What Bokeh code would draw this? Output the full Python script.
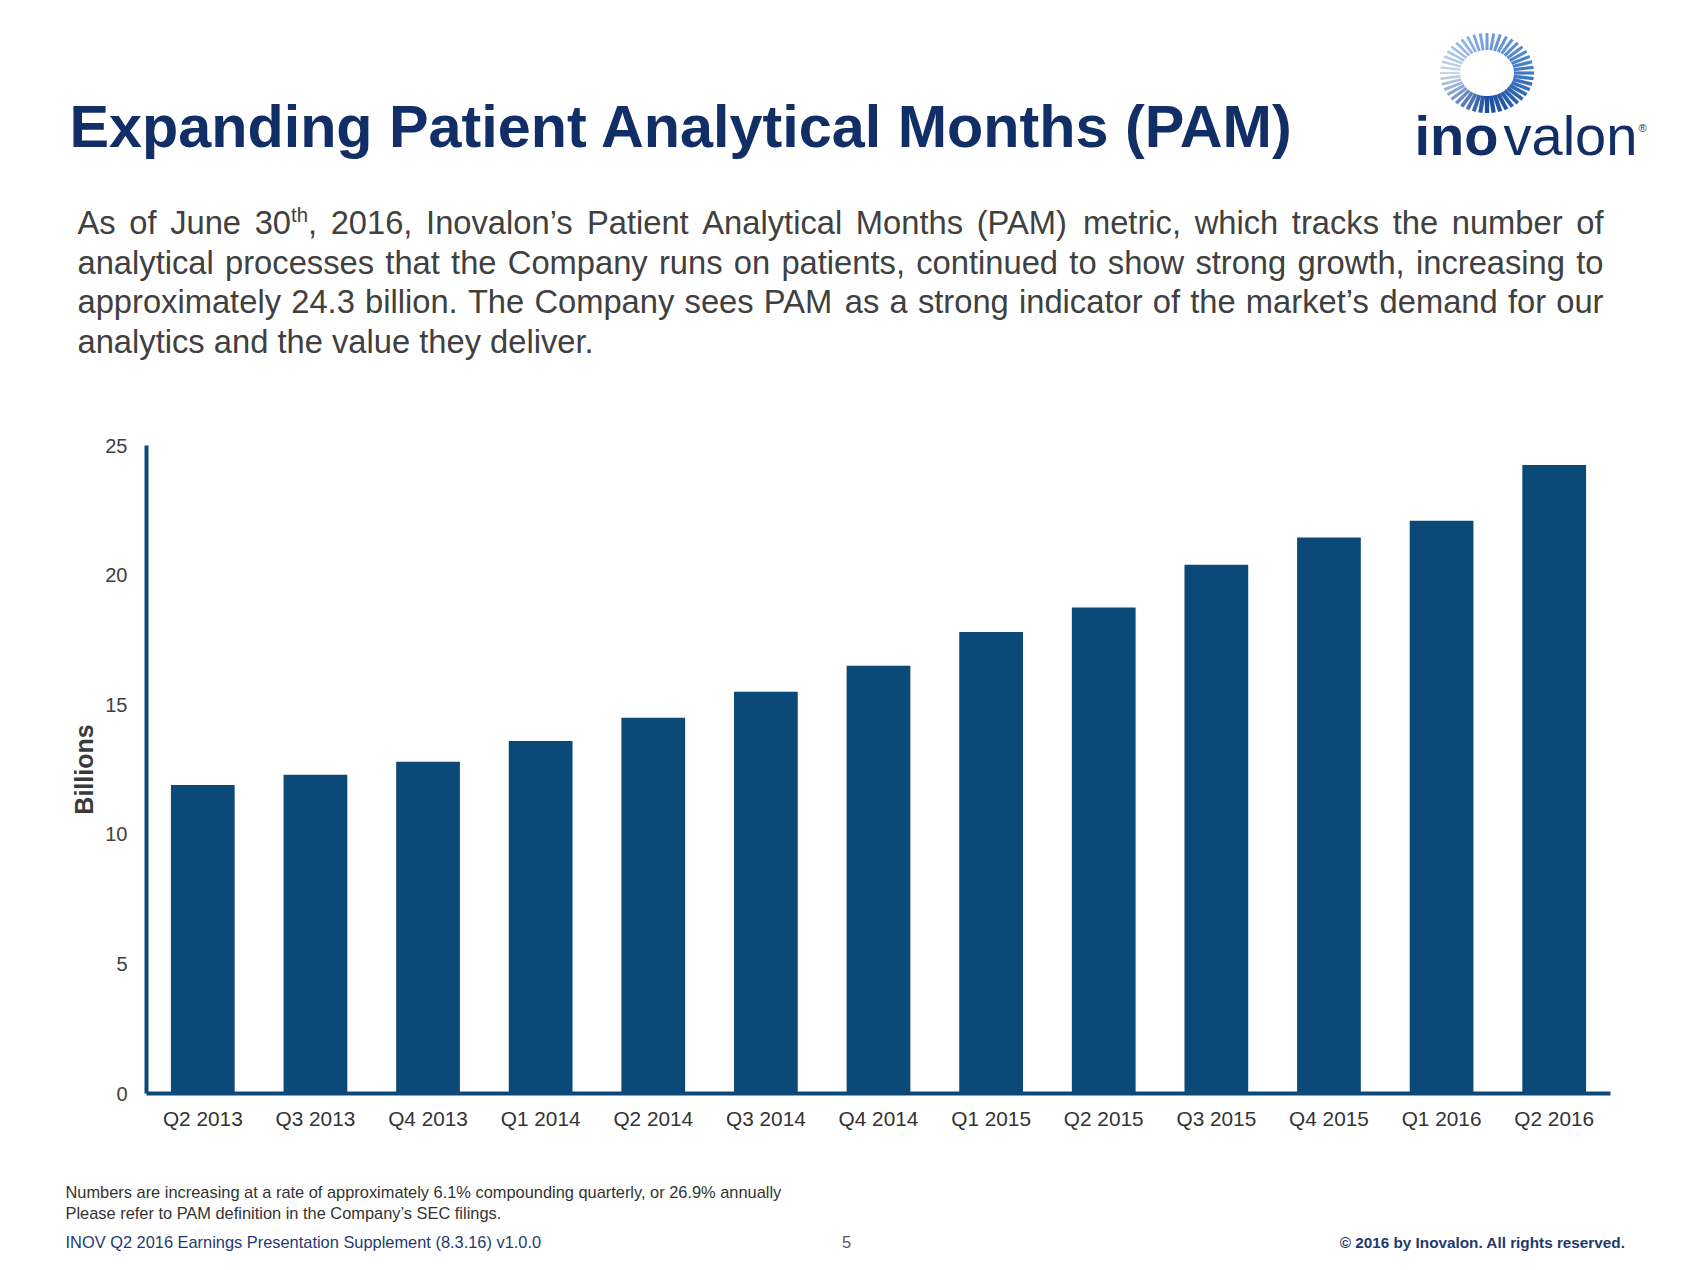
import math
import re
from bokeh.plotting import figure
from bokeh.models import Range1d, FactorRange, ColumnDataSource, FixedTicker
from bokeh.core.properties import value
from bokeh.embed import file_html
from bokeh.resources import INLINE

# ---------------- data ----------------
quarters = ["Q2 2013", "Q3 2013", "Q4 2013", "Q1 2014", "Q2 2014", "Q3 2014", "Q4 2014",
            "Q1 2015", "Q2 2015", "Q3 2015", "Q4 2015", "Q1 2016", "Q2 2016"]
pam_billions = [11.9, 12.3, 12.8, 13.6, 14.5, 15.5, 16.5, 17.8, 18.75, 20.4, 21.45, 22.1, 24.25]
y_ticks = [0, 5, 10, 15, 20, 25]
y_axis_label = "Billions"

title_text = "Expanding Patient Analytical Months (PAM)"
paragraph_lines = [
    "As of June 30{th}, 2016, Inovalon\u2019s Patient Analytical Months (PAM) metric, which tracks the number of",
    "analytical processes that the Company runs on patients, continued to show strong growth, increasing to",
    "approximately 24.3 billion. The Company sees PAM as a strong indicator of the market\u2019s demand for our",
    "analytics and the value they deliver.",
]
footnote_lines = [
    "Numbers are increasing at a rate of approximately 6.1% compounding quarterly, or 26.9% annually",
    "Please refer to PAM definition in the Company\u2019s SEC filings.",
]
footer_left = "INOV Q2 2016 Earnings Presentation Supplement (8.3.16) v1.0.0"
footer_page = "5"
footer_right = "\u00a9 2016 by Inovalon. All rights reserved."

# ---------------- styles ----------------
FONT = "Liberation Sans"
BAR = "#0b4a78"
NAVY = "#112e67"
GRAY = "#404040"

W, H = 1693, 1262
FL, FR, FT, FB = 146, 1610, 445, 1093   # frame edges in page px
BASE_K = 0.37                           # baseline correction (em) for text glyphs

# Arial / Liberation Sans advance widths (1/1000 em)
CW = {' ': 278, ',': 278, '.': 278, '(': 333, ')': 333, '\u2019': 222, '%': 889, '-': 333}
CW.update({d: 556 for d in "0123456789"})
CW.update(dict(zip("ABCDEFGHIJKLMNOPQRSTUVWXYZ",
                   [667, 667, 722, 722, 667, 611, 778, 722, 278, 500, 667, 556, 833, 722, 778, 667,
                    778, 722, 667, 611, 722, 667, 944, 667, 667, 611])))
CW.update(dict(zip("abcdefghijklmnopqrstuvwxyz",
                   [556, 556, 500, 556, 556, 278, 556, 556, 222, 222, 500, 222, 833, 556, 556, 556,
                    556, 333, 500, 278, 556, 500, 722, 500, 500, 500])))
SUP = 0.62


def segments(word):
    out = []
    for part in re.split(r"(\{[^}]*\})", word):
        if not part:
            continue
        if part.startswith("{"):
            out.append((part[1:-1], True))
        else:
            out.append((part, False))
    return out


def seg_width(text, sup, size):
    return sum(CW.get(c, 556) for c in text) / 1000.0 * size * (SUP if sup else 1.0)


def word_width(word, size):
    return sum(seg_width(t, s, size) for t, s in segments(word))


def cx_(px):
    # page x pixel -> synthetic coordinate on the categorical x range
    return (px - FL) / (FR - FL) * len(quarters)


p = figure(width=W, height=H, x_range=FactorRange(*quarters), y_range=Range1d(0, 25),
           output_backend="svg", toolbar_location=None,
           min_border_left=FL, min_border_right=W - FR, min_border_top=FT, min_border_bottom=H - FB)
p.extra_y_ranges = {"px": Range1d(FB, FT)}

src = ColumnDataSource(dict(q=quarters, v=pam_billions))
p.vbar(x="q", top="v", width=0.566, source=src, fill_color=BAR, line_color=None)

p.grid.visible = False
p.outline_line_color = None
p.background_fill_color = "white"

xa = p.xaxis[0]
xa.axis_line_color = BAR
xa.axis_line_width = 4
xa.major_tick_line_color = None
xa.minor_tick_line_color = None
xa.major_label_text_font = FONT
xa.major_label_text_font_size = "20.8px"
xa.major_label_text_color = "#333333"
xa.major_label_standoff = 7

ya = p.yaxis[0]
ya.ticker = FixedTicker(ticks=y_ticks)
ya.axis_line_color = BAR
ya.axis_line_width = 4
ya.major_tick_line_color = None
ya.minor_tick_line_color = None
ya.major_label_text_font = FONT
ya.major_label_text_font_size = "20px"
ya.major_label_text_color = "#404040"
ya.major_label_standoff = 13
ya.axis_label = y_axis_label
ya.axis_label_text_font = FONT
ya.axis_label_text_font_size = "25px"
ya.axis_label_text_font_style = "bold"
ya.axis_label_text_color = "#3a3a3a"
ya.axis_label_standoff = 4

texts = {"left": [], "center": [], "right": []}


def label(x, y, text, size, color, style="normal", align="left"):
    # x, y in page pixels (y downwards, y = alphabetic baseline)
    texts[align].append((cx_(x), y - BASE_K * size, text, f"{size}px", color, style))


# title
label(69, 148, title_text, 59.3, NAVY, "bold")

# justified paragraph
PS = 32.7
PL, PR = 77, 1603
for li, line in enumerate(paragraph_lines):
    base = 234 + li * 39.6
    words = line.split(" ")
    ws = [word_width(w, PS) for w in words]
    if li < len(paragraph_lines) - 1:
        gap = (PR - PL - sum(ws)) / (len(words) - 1)
    else:
        gap = CW[' '] / 1000.0 * PS
    x = PL
    for w, wd in zip(words, ws):
        xx = x
        for t, s in segments(w):
            if s:
                label(xx, base - 0.36 * PS, t, round(PS * SUP, 1), GRAY)
            else:
                label(xx, base, t, PS, GRAY)
            xx += seg_width(t, s, PS)
        x += wd + gap

# footnotes
label(65, 1198, footnote_lines[0], 16.4, "#333333")
label(65, 1219, footnote_lines[1], 16.4, "#333333")
label(65, 1248, footer_left, 16.4, "#1f3a6e")
label(846, 1248, footer_page, 16.4, "#555555", align="center")
label(1625, 1248, footer_right, 15.3, "#1f3a6e", "bold", align="right")

# logo wordmark
label(1414, 156, "ino", 56, NAVY, "bold")
label(1503, 156, "valon", 56, NAVY)
label(1638, 132, "\u00ae", 11, NAVY)

for align, rows in texts.items():
    if not rows:
        continue
    xs, ys, ts, ss, cs, st = zip(*rows)
    tsrc = ColumnDataSource(dict(x=list(xs), y=list(ys), t=list(ts), s=list(ss), c=list(cs), st=list(st)))
    p.text(x="x", y="y", text="t", source=tsrc, text_font=value(FONT), text_font_size="s",
           text_color="c", text_font_style="st", text_align=value(align),
           text_baseline=value("alphabetic"), y_range_name="px", level="overlay")

# logo ring of radial dashes
anchors = [(0, (0x3f, 0x79, 0xc4), 3.2), (90, (0x6f, 0x9f, 0xd8), 3.0),
           (180, (0xc8, 0xd7, 0xec), 2.2), (270, (0x1c, 0x4f, 0x9c), 4.4), (360, (0x3f, 0x79, 0xc4), 3.2)]


def ring_style(deg):
    for (a0, c0, w0), (a1, c1, w1) in zip(anchors[:-1], anchors[1:]):
        if a0 <= deg <= a1:
            t = (deg - a0) / (a1 - a0)
            c = tuple(int(round(c0[k] + (c1[k] - c0[k]) * t)) for k in range(3))
            return "#%02x%02x%02x" % c, w0 + (w1 - w0) * t
    return "#3f79c4", 3.0


rcx, rcy = 1486.5, 72.5
n = 44
x0, y0, x1, y1, cols, lws = [], [], [], [], [], []
for i in range(n):
    deg = 360.0 * i / n
    th = math.radians(deg)
    x0.append(cx_(rcx + 27 * math.cos(th))); y0.append(rcy - 23 * math.sin(th))
    x1.append(cx_(rcx + 47 * math.cos(th))); y1.append(rcy - 40 * math.sin(th))
    c, lw = ring_style(deg)
    cols.append(c); lws.append(lw)
ring = ColumnDataSource(dict(x0=x0, y0=y0, x1=x1, y1=y1, c=cols, lw=lws))
p.segment(x0="x0", y0="y0", x1="x1", y1="y1", source=ring, line_color="c", line_width="lw",
          y_range_name="px", level="overlay")

open("out.html", "w").write(file_html(p, INLINE))
